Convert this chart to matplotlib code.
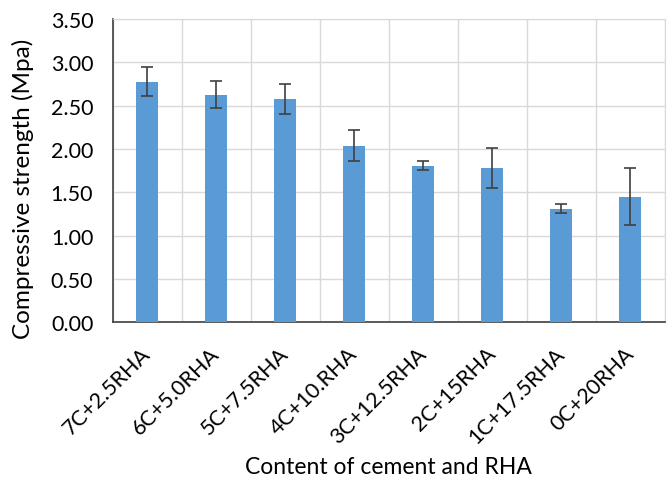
import numpy as np
import matplotlib.pyplot as plt
from matplotlib.transforms import ScaledTranslation

# 시멘트/왕겨재 배합별 압축강도
mixes = ['7C+2.5RHA', '6C+5.0RHA', '5C+7.5RHA', '4C+10.RHA',
         '3C+12.5RHA', '2C+15RHA', '1C+17.5RHA', '0C+20RHA']
strength = [2.78, 2.63, 2.58, 2.04, 1.81, 1.78, 1.31, 1.45]
err = [0.17, 0.16, 0.17, 0.18, 0.05, 0.23, 0.05, 0.33]

plt.rcParams['font.family'] = ['Lato', 'DejaVu Sans']

fig = plt.figure(figsize=(6.71, 4.81), dpi=100)
ax = fig.add_axes([0.168, 0.328, 0.823, 0.630])

x = np.arange(len(mixes))
ax.bar(x, strength, width=0.32, color='#5B9BD5', zorder=3)
ax.errorbar(x, strength, yerr=err, fmt='none', ecolor='#404040',
            elinewidth=1.2, capsize=4.5, capthick=1.2, zorder=4)

ax.set_xlim(-0.5, len(mixes) - 0.5)
ax.set_ylim(0, 3.5)
yt = np.arange(0, 3.51, 0.5)
ax.set_yticks(yt)
ax.set_yticklabels([f"{v:.2f}" for v in yt], fontsize=15.5)
ax.set_xticks(x)
ax.set_xticklabels(mixes, rotation=45, ha='right', va='center',
                   rotation_mode='anchor', fontsize=15.5)
# 엑셀처럼 라벨 끝이 막대 중심보다 약간 오른쪽
shift = ScaledTranslation(0.11, 0, fig.dpi_scale_trans)
for lab in ax.get_xticklabels():
    lab.set_transform(lab.get_transform() + shift)

# 세로 격자는 범주 경계에
ax.set_xticks(np.arange(-0.5, len(mixes)), minor=True)
ax.grid(True, axis='y', color='#d9d9d9', linewidth=1, zorder=0)
ax.grid(True, axis='x', which='minor', color='#d9d9d9', linewidth=1, zorder=0)
ax.tick_params(axis='y', which='both', length=0, pad=14)
ax.tick_params(axis='x', which='both', length=0, pad=20)

for s in ['top', 'right']:
    ax.spines[s].set_color('#d9d9d9')
for s in ['left', 'bottom']:
    ax.spines[s].set_color('#404040')
    ax.spines[s].set_linewidth(1.2)

ax.set_ylabel('Compressive strength (Mpa)', fontsize=17.5)
ax.yaxis.set_label_coords(-0.143, 0.445)
ax.set_xlabel('Content of cement and RHA', fontsize=16.5)
ax.xaxis.set_label_coords(0.5, -0.44)

fig.savefig('out.png', dpi=100)
